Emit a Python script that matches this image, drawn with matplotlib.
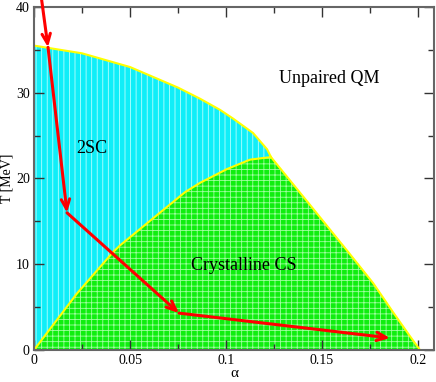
import matplotlib
matplotlib.use('Agg')
import matplotlib.pyplot as plt
from matplotlib.ticker import MultipleLocator, FuncFormatter

plt.rcParams['font.family'] = ['Liberation Serif', 'DejaVu Serif']
plt.rcParams['hatch.linewidth'] = 0.6

# 2SC / normal boundary
tsc_alpha = [0, 0.025, 0.05, 0.075, 0.0865, 0.0969, 0.1036, 0.1141, 0.1214, 0.1234]
tsc_T = [35.5, 34.6, 33.0, 30.6, 29.3, 28.0, 27.0, 25.3, 23.4, 22.5]

# crystalline / 2SC boundary
cs_left_alpha = [0, 0.0224, 0.0411, 0.0448, 0.0786, 0.0865, 0.1005, 0.1125, 0.1234]
cs_left_T = [0, 6.6, 11.4, 12.2, 18.4, 19.5, 21.1, 22.2, 22.5]

# crystalline / normal boundary
cs_right_alpha = [0.1234, 0.1427, 0.1630, 0.1766, 0.1870, 0.1958, 0.2010]
cs_right_T = [22.5, 17.2, 11.6, 7.8, 4.4, 1.6, 0.0]

# cooling path (red arrows)
path_alpha = [0.0040, 0.0073, 0.0172, 0.0755, 0.1854]
path_T = [40.8, 35.3, 16.0, 4.3, 1.4]

fig = plt.figure(figsize=(4.36, 3.82), dpi=100)
ax = fig.add_axes([34/436, 32/382, 400/436, 343/382])

# 2SC region
px = cs_left_alpha + tsc_alpha[::-1]
py = cs_left_T + tsc_T[::-1]
ax.fill(px, py, facecolor='#10eef8', edgecolor='#b8ffff', hatch='|||', linewidth=0)

# crystalline region
qx = cs_left_alpha + cs_right_alpha[1:]
qy = cs_left_T + cs_right_T[1:]
ax.fill(qx, qy, facecolor='#10ee10', edgecolor='#a0ffa0', hatch='+++', linewidth=0)

ax.plot(tsc_alpha, tsc_T, color='#ffff00', lw=1.5)
ax.plot(cs_left_alpha, cs_left_T, color='#ffff00', lw=1.5)
ax.plot(cs_right_alpha, cs_right_T, color='#ffff00', lw=1.5)

for i in range(len(path_alpha) - 1):
    ax.annotate('', xy=(path_alpha[i+1], path_T[i+1]),
                xytext=(path_alpha[i], path_T[i]),
                arrowprops=dict(arrowstyle='->,head_length=0.7,head_width=0.3',
                                color='red', lw=2.2, shrinkA=0, shrinkB=0),
                annotation_clip=False, zorder=5)

ax.text(0.154, 31.7, 'Unpaired QM', fontsize=13, ha='center', va='center')
ax.text(0.030, 23.5, '2SC', fontsize=13, ha='center', va='center')
ax.text(0.109, 9.9, 'Crystalline CS', fontsize=13, ha='center', va='center')

ax.set_xlim(0, 0.2083)
ax.set_ylim(0, 40)
ax.xaxis.set_major_locator(MultipleLocator(0.05))
ax.xaxis.set_minor_locator(MultipleLocator(0.025))
ax.yaxis.set_major_locator(MultipleLocator(10))
ax.yaxis.set_minor_locator(MultipleLocator(5))
ax.xaxis.set_major_formatter(FuncFormatter(lambda v, p: '%g' % v))
ax.tick_params(which='both', direction='in', top=True, right=True,
               color='#333333', labelsize=10, pad=3)
ax.tick_params(which='major', length=7, width=1)
ax.tick_params(which='minor', length=4, width=1)
for s in ax.spines.values():
    s.set_color('#666666')
    s.set_linewidth(1.5)

ax.set_xlabel('α', fontsize=11, labelpad=0)
ax.set_ylabel('T [MeV]', fontsize=10, labelpad=2)

fig.savefig('out.png', dpi=100)
